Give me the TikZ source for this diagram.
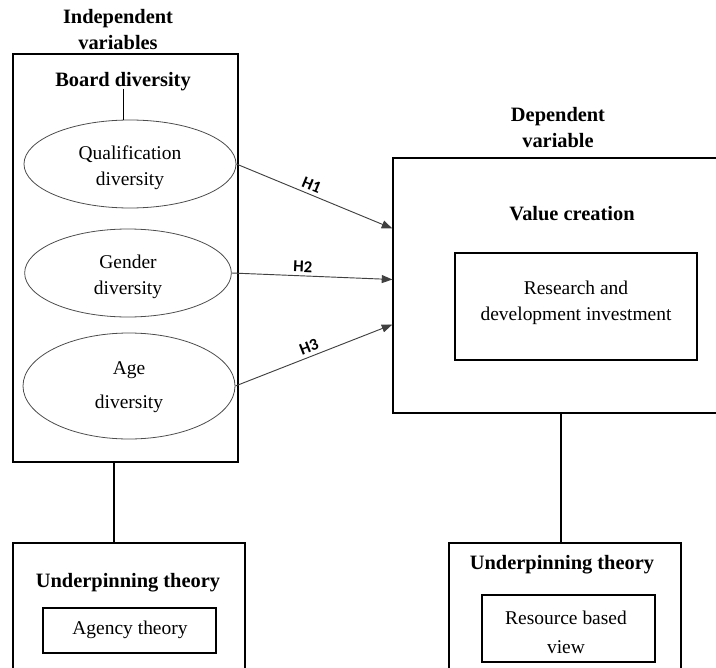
\documentclass[tikz,border=0pt]{standalone}
\usepackage{fontspec}
\setmainfont{Liberation Serif}
\newfontfamily\hfont{Carlito}
\usetikzlibrary{arrows.meta,fit,shapes.geometric}
\tikzset{frame/.style={draw, line width=0.9pt, inner sep=0pt, align=center},
  oval/.style={draw=black!70, ellipse, line width=0.6pt, inner sep=0pt, align=center},
  title/.style={font=\bfseries\fontsize{15.3}{19.5}\selectfont, align=center, inner sep=0pt},
  plain/.style={align=center, inner sep=0pt},
  hyp/.style={draw=black!75, line width=0.7pt, -{Triangle[length=8pt,width=6pt]}},
  hlab/.style={font=\hfont\bfseries\fontsize{12.5}{14}\selectfont, sloped, above, inner sep=2.5pt, text=black}}

\begin{document}
\begin{tikzpicture}[x=0.75pt, y=-0.75pt, font=\fontsize{14.6}{19.5}\selectfont]
        \useasboundingbox (0,0) rectangle (716,667);
        \clip (0,0) rectangle (716,667);
        \begin{scope}
            \node[title] (ivtitle) at (118,30) {Independent\\variables};
            \node[frame, fit={(13,54) (238,462)}] (ivbox) {};
            \node[title] (board) at (123,82) {Board diversity};
            \node[oval, minimum width=159pt, minimum height=66pt] (qual) at (130,164) {};
            \node[plain] (qualtext) at (130,168) {Qualification\\diversity};
            \node[oval, minimum width=155pt, minimum height=66pt] (gend) at (128,273) {};
            \node[plain] (gendtext) at (128,277) {Gender\\diversity};
            \node[oval, minimum width=159pt, minimum height=79.5pt] (age) at (129,386) {};
            \node[plain] (agetext) at (129,387) {Age\\[6pt]diversity};
            \draw[line width=0.6pt] (board.south) ++(0,-3) -- (board.south |- qual.north);

            \node[title] (dvtitle) at (558,128) {Dependent\\variable};
            \node[frame, fit={(393,158) (729,413)}] (dvbox) {};
            \node[title] (value) at (572,214) {Value creation};
            \node[frame, fit={(455,253) (697,360)}] (rnd) {};
            \node[plain] (rndtext) at (576,303) {Research and\\development investment};

            \draw[hyp] (qual.east) -- ([yshift=42.75pt]dvbox.west) node[hlab, pos=0.46] {H1};
            \draw[hyp] (gend.east) -- ([yshift=4.5pt]dvbox.west) node[hlab, pos=0.44] {H2};
            \draw[hyp] (age.east) -- ([yshift=-29.25pt]dvbox.west) node[hlab, pos=0.49] {H3};

            \node[frame, fit={(13,543) (245,672)}] (ltheory) {};
            \node[title] (lunder) at (128,583) {Underpinning theory};
            \node[frame, fit={(43,608) (216,653)}] (agency) {};
            \node[plain] (agencytext) at (130,630) {Agency theory};
            \draw[line width=0.9pt] ([xshift=-8.6pt]ivbox.south) -- ([xshift=-8.6pt]ivbox.south |- ltheory.north);

            \node[frame, fit={(449,543) (681,672)}] (rtheory) {};
            \node[title] (runder) at (562,565) {Underpinning theory};
            \node[frame, fit={(482,595) (655,662)}] (rbv) {};
            \node[plain] (rbvtext) at (566,632) {Resource based\\[2pt]view};
            \draw[line width=0.9pt] (dvbox.south) -- (dvbox.south |- rtheory.north);
        \end{scope}
    \end{tikzpicture}
\end{document}
